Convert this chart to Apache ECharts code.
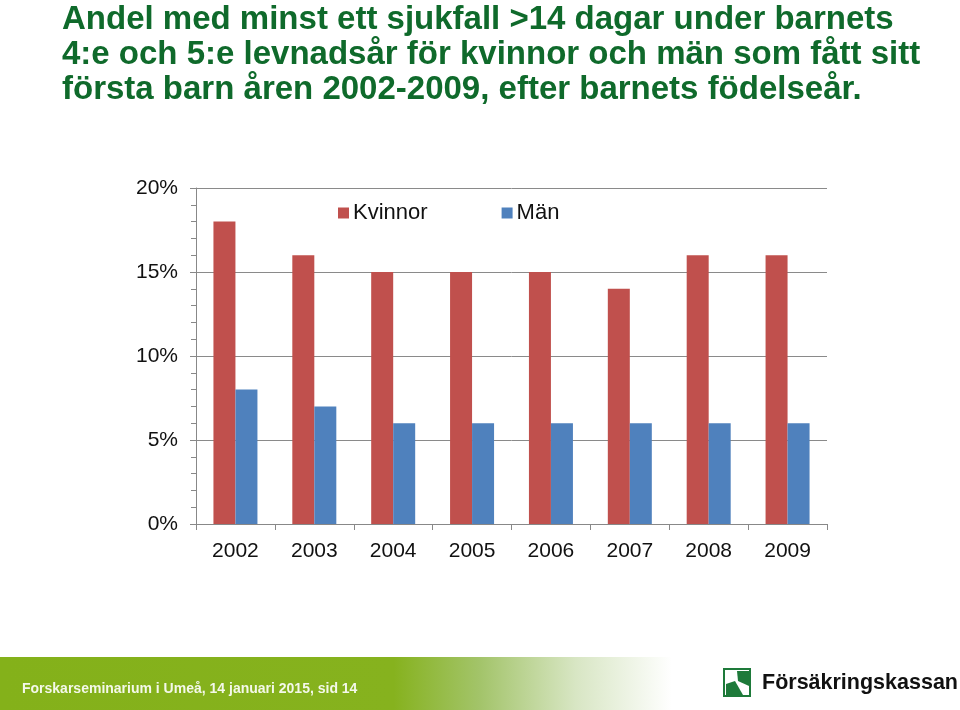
<!DOCTYPE html>
<html><head><meta charset="utf-8">
<script src="https://cdn.jsdelivr.net/npm/echarts@6/dist/echarts.min.js"></script>
<style>html,body{margin:0;padding:0;background:#fff}#c{width:960px;height:710px}</style>
</head><body><div id="c"></div>
<script>
const categories = ['2002','2003','2004','2005','2006','2007','2008','2009'];
const kvinnor = [18,16,15,15,15,14,16,16];
const man = [8,7,6,6,6,6,6,6];
const seriesNames = ['Kvinnor','Män'];
const titleLines = [
  'Andel med minst ett sjukfall >14 dagar under barnets',
  '4:e och 5:e levnadsår för kvinnor och män som fått sitt',
  'första barn åren 2002-2009, efter barnets födelseår.'
];
const footerText = 'Forskarseminarium i Umeå, 14 januari 2015, sid 14';
const logoText = 'Försäkringskassan';

const chart = echarts.init(document.getElementById('c'), null, {renderer:'canvas'});
const font = 'Liberation Sans, Arial, sans-serif';
chart.setOption({
  animation:false,
  title:{
    text: titleLines.join('\n'), left:57, top:-3,
    textStyle:{fontFamily:font, fontWeight:'bold', fontSize:33, lineHeight:35, color:'#0F6A2B'}
  },
  legend:{
    data:seriesNames, top:197, left:333, itemWidth:11, itemHeight:11, itemGap:74,
    icon:'rect',
    textStyle:{fontFamily:font, fontSize:22, color:'#111', padding:[0,0,0,-1]}
  },
  grid:{left:196, right:133, top:188, bottom:186, containLabel:false},
  xAxis:{
    type:'category', data:categories,
    axisLine:{lineStyle:{color:'#888', width:1}},
    axisTick:{show:true, length:6, lineStyle:{color:'#888'}},
    axisLabel:{fontFamily:font, fontSize:21, color:'#111', margin:17}
  },
  yAxis:{
    type:'value', min:0, max:20, interval:5,
    axisLine:{show:true, lineStyle:{color:'#888'}},
    axisTick:{show:true, inside:false, length:6, lineStyle:{color:'#888'}},
    minorTick:{show:true, splitNumber:5, length:5, lineStyle:{color:'#888'}},
    splitLine:{lineStyle:{color:'#8a8a8a', width:1}},
    axisLabel:{fontFamily:font, fontSize:21, color:'#111', margin:18, formatter:'{value}%'}
  },
  series:[
    {name:seriesNames[0], type:'bar', data:kvinnor, barWidth:22, barGap:'0%', itemStyle:{color:'#C0504D'}},
    {name:seriesNames[1], type:'bar', data:man, barWidth:22, barGap:'0%', itemStyle:{color:'#4F81BD'}}
  ],
  graphic:[
    {type:'rect', shape:{x:0,y:657,width:960,height:53}, silent:true, z:-1,
     style:{fill:new echarts.graphic.LinearGradient(0,0,1,0,[
       {offset:0,color:'#84B11A'},{offset:0.41,color:'#86B21E'},{offset:0.5,color:'#A3C46A'},
       {offset:0.6,color:'#D8E6C4'},{offset:0.7,color:'#FFFFFF'},{offset:1,color:'#FFFFFF'}])}},
    {type:'text', left:22, top:682, style:{text:footerText, fontFamily:font, fontWeight:'bold', fontSize:14, fill:'#F4F8EA'}},
    {type:'rect', shape:{x:724,y:669,width:26,height:27}, style:{fill:'#fff', stroke:'#1E7A3A', lineWidth:2}},
    {type:'polygon', shape:{points:[[737,671],[749,671],[749,686],[738,681]]}, style:{fill:'#1E7A3A'}},
    {type:'polygon', shape:{points:[[726,684],[735,681],[743,695],[726,695]]}, style:{fill:'#1E7A3A'}},
    {type:'text', left:762, top:672, style:{text:logoText, fontFamily:font, fontWeight:'bold', fontSize:21.5, fill:'#111'}}
  ]
});
</script></body></html>
